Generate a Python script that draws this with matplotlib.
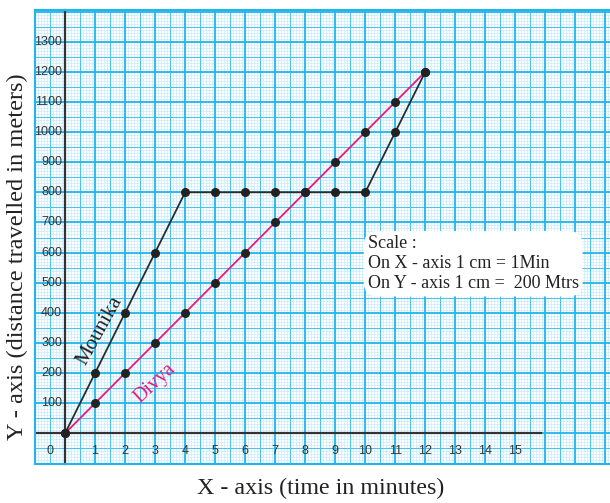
import numpy as np
import matplotlib.pyplot as plt

# data
minutes = [0, 1, 2, 3, 4, 5, 6, 7, 8, 9, 10, 11, 12]
mounika = [0, 200, 400, 600, 800, 800, 800, 800, 800, 800, 800, 1000, 1200]
divya = [0, 100, 200, 300, 400, 500, 600, 700, 800, 900, 1000, 1100, 1200]
x_ticks = list(range(0, 16))
y_ticks = list(range(100, 1400, 100))

SERIF = 'Liberation Serif'
SANS = 'Liberation Sans'

fig = plt.figure(figsize=(6.10, 5.03), dpi=100)
W, H = 610, 503
# axes placed in pixel terms: left 35, right 610, top 10, bottom 463.5
ax = fig.add_axes([35 / W, (H - 463.5) / H, (610 - 35) / W, (463.5 - 10) / H])

xmin, xmax = -1.0, 18.15
ymin, ymax = -100, 1405
ax.set_xlim(xmin, xmax)
ax.set_ylim(ymin, ymax)

# ── graph paper ──
fine = '#c4e9f9'
mid = '#45c3ef'
major = '#22b5ec'
for v in np.arange(-1, 18.2, 0.1):
    ax.axvline(v, color=fine, lw=0.45, zorder=0)
for v in np.arange(-100, 1410, 10):
    ax.axhline(v, color=fine, lw=0.45, zorder=0)
for v in np.arange(-0.5, 18.2, 1):
    ax.axvline(v, color=mid, lw=0.7, zorder=0.5)
for v in np.arange(-50, 1410, 100):
    ax.axhline(v, color=mid, lw=0.7, zorder=0.5)
for v in np.arange(-1, 18.2, 1):
    ax.axvline(v, color=major, lw=1.3, zorder=0.6)
for v in np.arange(-100, 1410, 100):
    ax.axhline(v, color=major, lw=1.3, zorder=0.6)

for s in ax.spines.values():
    s.set_color(major)
    s.set_linewidth(1.5)
ax.spines['right'].set_visible(False)
ax.set_xticks([])
ax.set_yticks([])

# drawn axes
ax.plot([0, 0], [ymin, ymax], color='#333333', lw=1.6, zorder=2, clip_on=False)
ax.plot([xmin, 15.85], [0, 0], color='#333333', lw=1.6, zorder=2)

# tick labels inside the paper
for t in x_ticks:
    xt = -0.5 if t == 0 else t
    ax.text(xt, -58, str(t), ha='center', va='center', fontsize=9,
            family=SANS, color='#333333', zorder=3)
for t in y_ticks:
    ax.text(-0.1, t, str(t), ha='right', va='center', fontsize=9,
            family=SANS, color='#333333', zorder=3)

# ── series ──
ax.plot(minutes, divya, color='#e8197f', lw=1.3, zorder=4)
ax.plot(minutes, mounika, color='#2b2b2b', lw=1.3, zorder=4)
ax.plot(minutes, divya, 'o', color='#222222', ms=5.5, zorder=5)
ax.plot(minutes, mounika, 'o', color='#222222', ms=5.5, zorder=5)

ax.text(1.16, 340, 'Mounika', rotation=61, ha='center', va='center',
        fontsize=15, family=SERIF, color='#222222', zorder=6)
ax.text(3.0, 165, 'Divya', rotation=43, ha='center', va='center',
        fontsize=14.5, family=SERIF, color='#e8197f', zorder=6)

ax.text(10.08, 563, 'Scale :\nOn X - axis 1 cm = 1Min\nOn Y - axis 1 cm =  200 Mtrs',
        ha='left', va='center', fontsize=13, family=SERIF, color='#222222',
        linespacing=1.25, zorder=6,
        bbox=dict(boxstyle='round,pad=0.22,rounding_size=0.8', fc='white', ec='none'))

fig.text(321 / W, 1 - 488 / H, 'X - axis (time in minutes)', ha='center', va='center',
         fontsize=17.3, family=SERIF, color='#222222')
fig.text(17 / W, 1 - 257 / H, 'Y - axis (distance travelled in meters)', ha='center',
         va='center', rotation=90, fontsize=17.6, family=SERIF, color='#222222')

fig.savefig('out.png', dpi=100)
